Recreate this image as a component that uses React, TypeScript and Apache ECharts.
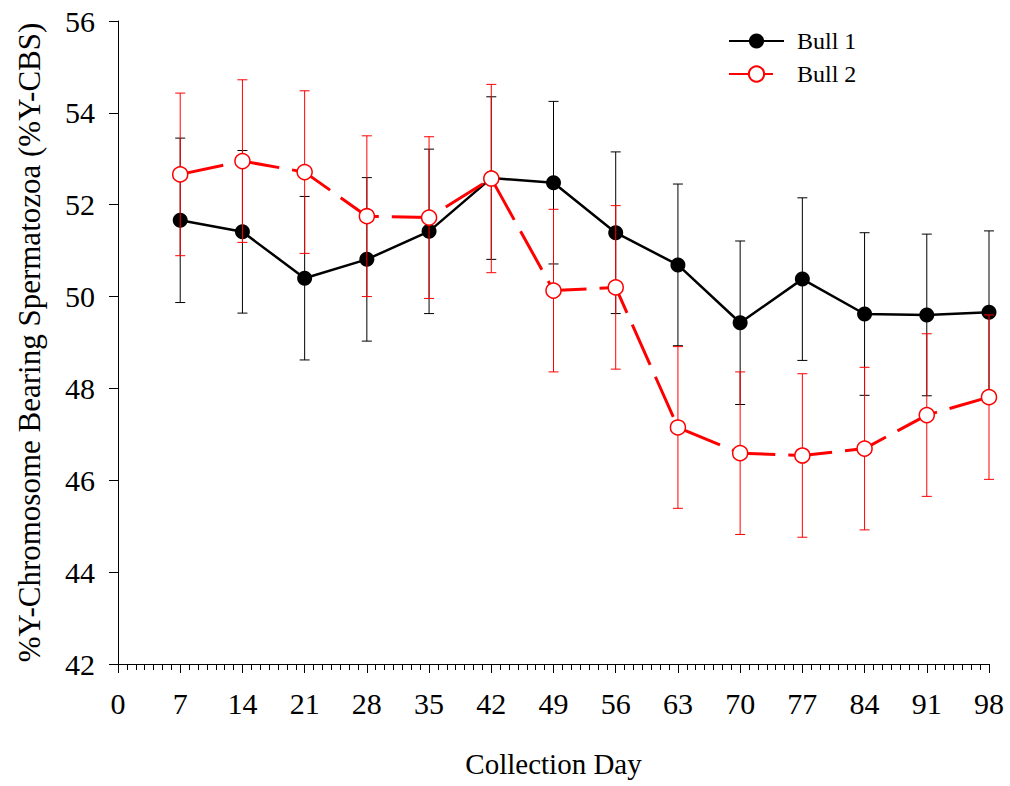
import React, { useEffect, useRef } from "react";
import * as echarts from "echarts";

// Collection days (x) and mean %Y-CBS with standard errors per bull
const days = [7, 14, 21, 28, 35, 42, 49, 56, 63, 70, 77, 84, 91, 98];
const bull1Mean = [51.66, 51.41, 50.4, 50.81, 51.42, 52.58, 52.48, 51.39, 50.69, 49.43, 50.38, 49.62, 49.6, 49.66];
const bull1Se = [1.79, 1.77, 1.78, 1.78, 1.79, 1.77, 1.77, 1.76, 1.76, 1.78, 1.77, 1.77, 1.76, 1.77];
const bull2Mean = [52.66, 52.95, 52.71, 51.75, 51.72, 52.57, 50.13, 50.2, 47.15, 46.59, 46.54, 46.69, 47.42, 47.81];
const bull2Se = [1.77, 1.77, 1.77, 1.75, 1.76, 2.05, 1.77, 1.78, 1.76, 1.77, 1.78, 1.77, 1.77, 1.79];

const seriesNames = ["Bull 1", "Bull 2"];
const xTitle = "Collection Day";
const yTitle = "%Y-Chromosome Bearing Spermatozoa (%Y-CBS)";

const FONT = "'Liberation Serif', 'Times New Roman', serif";

function errorBars(name: string, mean: number[], se: number[], color: string, z: number) {
  return {
    type: "custom",
    name: name + " SE",
    z,
    silent: true,
    encode: { x: 0, y: [1, 2] },
    data: days.map((d, i) => [d, mean[i] - se[i], mean[i] + se[i]]),
    renderItem: (_params: any, api: any) => {
      const x = api.value(0);
      const top = api.coord([x, api.value(2)]);
      const bot = api.coord([x, api.value(1)]);
      const hw = 5;
      const style = { stroke: color, lineWidth: 1 };
      return {
        type: "group",
        children: [
          { type: "line", shape: { x1: top[0], y1: top[1], x2: bot[0], y2: bot[1] }, style },
          { type: "line", shape: { x1: top[0] - hw, y1: top[1], x2: top[0] + hw, y2: top[1] }, style },
          { type: "line", shape: { x1: bot[0] - hw, y1: bot[1], x2: bot[0] + hw, y2: bot[1] }, style },
        ],
      };
    },
  };
}

export default function App() {
  const ref = useRef<HTMLDivElement>(null);

  useEffect(() => {
    if (!ref.current) return;
    const chart = echarts.init(ref.current, undefined, { renderer: "svg" });
    chart.setOption({
      animation: false,
      backgroundColor: "#fff",
      textStyle: { fontFamily: FONT, color: "#000" },
      grid: { left: 118, right: 21, top: 21, bottom: 122, containLabel: false, outerBoundsMode: "none" },
      legend: {
        data: seriesNames,
        orient: "vertical",
        left: 723,
        top: 24,
        itemWidth: 55,
        itemHeight: 19,
        itemGap: 9,
        textStyle: { fontFamily: FONT, fontSize: 24, color: "#000", padding: [0, 0, 0, 8] },
      },
      xAxis: {
        type: "value",
        min: 0,
        max: 98,
        interval: 7,
        name: xTitle,
        nameLocation: "middle",
        nameGap: 85,
        nameTextStyle: { fontFamily: FONT, fontSize: 29, color: "#000" },
        axisLine: { onZero: false, lineStyle: { color: "#000", width: 1 } },
        axisTick: { show: true, length: 9, lineStyle: { color: "#000", width: 1 } },
        minorTick: { show: true, splitNumber: 7, length: 6, lineStyle: { color: "#000", width: 1 } },
        axisLabel: { fontFamily: FONT, fontSize: 30, color: "#000", margin: 24 },
        splitLine: { show: false },
      },
      yAxis: {
        type: "value",
        min: 42,
        max: 56,
        interval: 2,
        name: yTitle,
        nameLocation: "middle",
        nameGap: 73,
        nameTextStyle: { fontFamily: FONT, fontSize: 31, color: "#000" },
        axisLine: { show: true, onZero: false, lineStyle: { color: "#000", width: 1 } },
        axisTick: { show: true, length: 9, lineStyle: { color: "#000", width: 1 } },
        axisLabel: { fontFamily: FONT, fontSize: 30, color: "#000", margin: 23 },
        splitLine: { show: false },
      },
      series: [
        errorBars(seriesNames[0], bull1Mean, bull1Se, "#000", 1),
        {
          type: "line",
          name: seriesNames[0],
          z: 2,
          data: days.map((d, i) => [d, bull1Mean[i]]),
          symbol: "circle",
          symbolSize: 15,
          lineStyle: { color: "#000", width: 2.5 },
          itemStyle: { color: "#000", borderWidth: 0 },
        },
        errorBars(seriesNames[1], bull2Mean, bull2Se, "#ff0000", 3),
        {
          type: "line",
          name: seriesNames[1],
          z: 4,
          data: days.map((d, i) => [d, bull2Mean[i]]),
          symbol: "circle",
          symbolSize: 15,
          lineStyle: { color: "#ff0000", width: 3, type: [44, 13] },
          itemStyle: { color: "#fff", borderColor: "#ff0000", borderWidth: 1.5 },
        },
      ],
    });
    return () => chart.dispose();
  }, []);

  return (
    <div
      ref={ref}
      style={{ position: "absolute", left: 0, top: 0, width: 1010, height: 786, background: "#fff" }}
    />
  );
}
